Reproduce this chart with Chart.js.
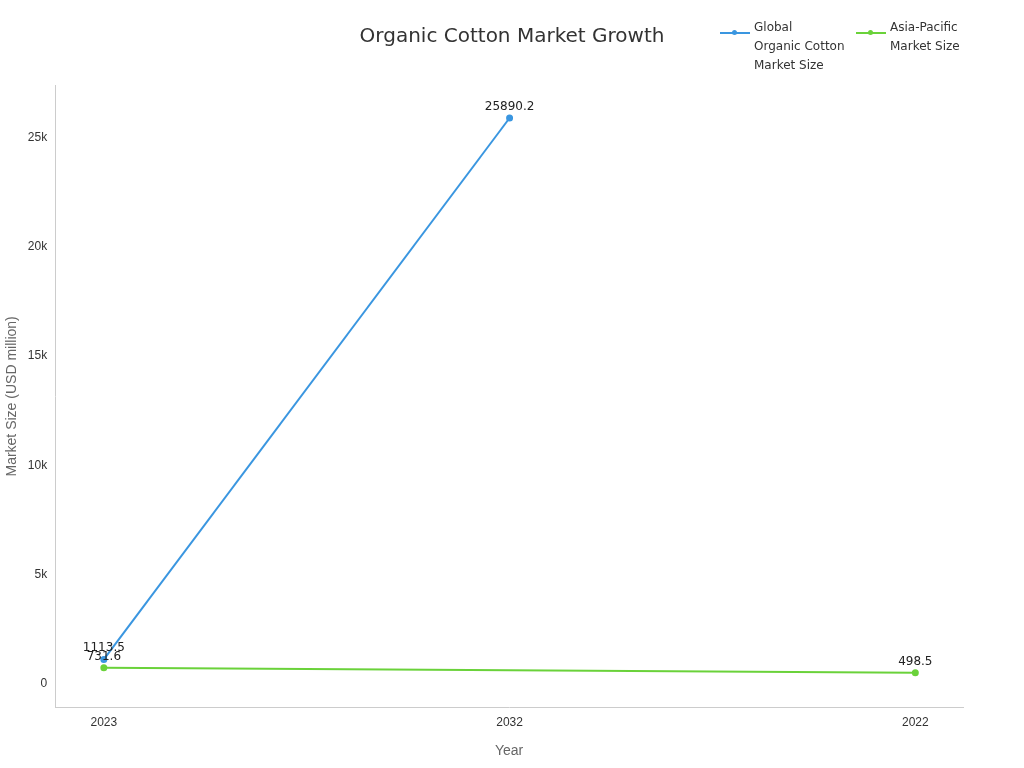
<!DOCTYPE html>
<html><head><meta charset="utf-8">
<script src="https://cdn.jsdelivr.net/npm/chart.js@4"></script>
<style>
body{margin:0;width:1024px;height:768px;position:relative;font-family:"DejaVu Sans",sans-serif;background:#fff}
#wrap{position:absolute;left:0;top:0;width:1024px;height:768px}
#title{position:absolute;left:0;width:1024px;top:23px;text-align:center;font-size:20px;color:#333}
.lg{position:absolute;top:18px;font-size:12px;color:#333;line-height:19px}
.sw{position:absolute;left:0;top:14px;width:30px;height:2px}
.sw i{position:absolute;left:12px;top:-2px;width:5px;height:5px;border-radius:50%}
</style></head><body>
<div id="wrap"><canvas id="c" width="1024" height="768"></canvas></div>
<div id="title">Organic Cotton Market Growth</div>
<div class="lg" style="left:720px"><div class="sw" style="background:#3a96e0"><i style="background:#3a96e0"></i></div><div style="margin-left:34px">Global<br>Organic Cotton<br>Market Size</div></div>
<div class="lg" style="left:856px"><div class="sw" style="background:#6ad23a"><i style="background:#6ad23a"></i></div><div style="margin-left:34px">Asia-Pacific<br>Market Size</div></div>
<script>
const categories = ["2023","2032","2022"];
const globalSize = [1113.5, 25890.2, null];
const asiaSize = [731.6, null, 498.5];
const toPts = a => a.map((v,i)=>({x:i,y:v}));
const labelPlugin = {id:'lbl',afterDatasetsDraw(ch){
  const ctx=ch.ctx; ctx.save(); ctx.font='12px "DejaVu Sans"'; ctx.fillStyle='#222'; ctx.textAlign='center';
  ch.data.datasets.forEach((ds,di)=>{ch.getDatasetMeta(di).data.forEach((p,i)=>{
    const v=ds.data[i].y; if(v==null) return; ctx.fillText(String(v),p.x,p.y-8);});});
  ctx.restore();}};
new Chart(document.getElementById('c'),{type:'line',
 data:{datasets:[
  {label:'Global Organic Cotton Market Size',data:toPts(globalSize),borderColor:'#3a96e0',backgroundColor:'#3a96e0',borderWidth:2,pointRadius:2.5,spanGaps:true},
  {label:'Asia-Pacific Market Size',data:toPts(asiaSize),borderColor:'#6ad23a',backgroundColor:'#6ad23a',borderWidth:2,pointRadius:2.5,spanGaps:true}]},
 options:{responsive:false,animation:false,
  layout:{padding:{top:85,right:61,left:0,bottom:4}},
  plugins:{legend:{display:false},tooltip:{enabled:false}},
  scales:{
   x:{type:'linear',min:-0.12,max:2.1175,afterBuildTicks:s=>{s.ticks=[0,1,2].map(v=>({value:v}));},
      grid:{display:false,drawTicks:true,tickLength:5},border:{color:'#ccc'},
      ticks:{color:'#333',font:{size:12},callback:v=>categories[v]},
      title:{display:true,text:'Year',color:'#666',font:{size:14},padding:{top:10}}},
   y:{min:-1100,max:27400,afterBuildTicks:s=>{s.ticks=[0,5000,10000,15000,20000,25000].map(v=>({value:v}));},
      grid:{display:false,tickLength:5},border:{color:'#ccc'},
      ticks:{color:'#333',font:{size:12},callback:v=>v===0?'0':(v/1000)+'k'},
      title:{display:true,text:'Market Size (USD million)',color:'#666',font:{size:14}}}
  }},plugins:[labelPlugin]});
</script></body></html>
